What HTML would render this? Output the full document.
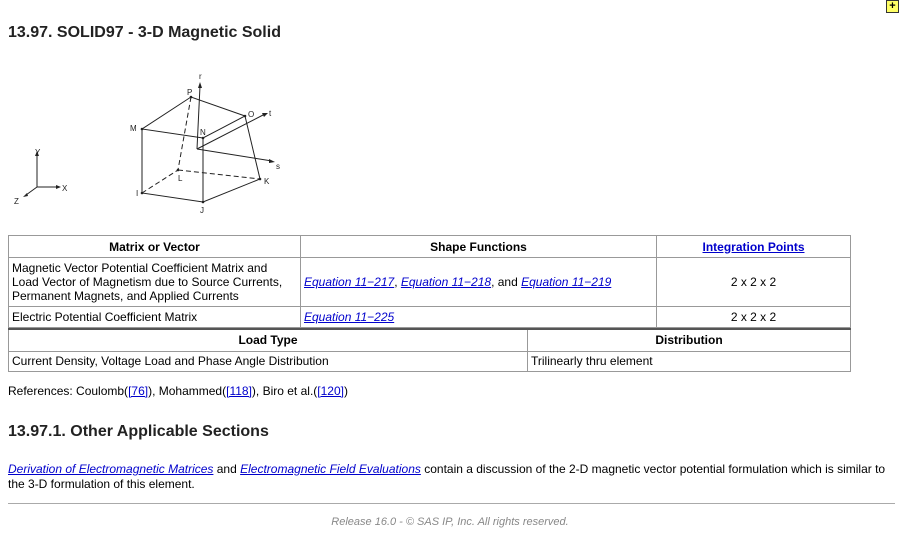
<!DOCTYPE html>
<html><head><meta charset="utf-8"><style>
body{margin:0;width:900px;height:540px;background:#fff;font-family:"Liberation Sans",sans-serif;color:#000;position:relative;overflow:hidden}
.a{position:absolute;white-space:nowrap}
a{color:#00c;text-decoration:underline}
table{position:absolute;border-collapse:collapse;font-size:12px;left:8px}
td,th{border:1px solid #999;padding:0 3px;vertical-align:middle}
th{font-weight:bold}
</style></head><body>
<div class="a" style="left:886px;top:0;width:11px;height:11px;background:#ff6;border:1px solid #333;font-size:11px;line-height:11px;text-align:center;font-weight:bold">+</div>
<div class="a" style="left:8px;top:24px;font-size:16px;font-weight:bold;color:#222">13.97. SOLID97 - 3-D Magnetic Solid</div>
<svg class="a" style="left:0;top:0" width="300" height="230" font-family="Liberation Sans,sans-serif" font-size="8" fill="#222">
<g stroke="#222" stroke-width="1" fill="none">
<path d="M142 129L191 97L245 116L203 138Z"/>
<path d="M142 129L142 193L203 202L260 179L245 116"/>
<path d="M203 138L203 202"/>
<path d="M191 97L178 170L142 193M178 170L260 179" stroke-dasharray="5,3"/>
<path d="M197 149L200 86M197 149L265 114M197 149L272 161"/>
<path d="M37 187L37 155M37 187L57 187M37 187L26 195"/>
</g>
<g fill="#222"><path d="M200 82l-2 6h4z"/><path d="M268 113l-6 0 2 4z"/><path d="M275 162l-6-3 0 4z"/><path d="M37 151l-2 5h4z"/><path d="M61 187l-5-2v4z"/><path d="M23 197l4-4 1 3z"/>
<circle cx="142" cy="129" r="1.3"/><circle cx="191" cy="97" r="1.3"/><circle cx="245" cy="116" r="1.3"/><circle cx="203" cy="138" r="1.3"/><circle cx="142" cy="193" r="1.3"/><circle cx="203" cy="202" r="1.3"/><circle cx="260" cy="179" r="1.3"/><circle cx="178" cy="170" r="1.3"/></g>
<text x="199" y="79">r</text><text x="187" y="95">P</text><text x="248" y="117">O</text><text x="269" y="116">t</text><text x="130" y="131">M</text><text x="200" y="135">N</text><text x="276" y="169">s</text><text x="178" y="181">L</text><text x="264" y="184">K</text><text x="136" y="196">I</text><text x="200" y="213">J</text>
<text x="35" y="155">Y</text><text x="62" y="191">X</text><text x="14" y="204">Z</text>
</svg>
<table style="top:235px;width:843px">
<tr style="height:22px"><th style="width:285px">Matrix or Vector</th><th style="width:349px">Shape Functions</th><th><a href="#">Integration Points</a></th></tr>
<tr style="height:49px"><td style="line-height:14px">Magnetic Vector Potential Coefficient Matrix and<br>Load Vector of Magnetism due to Source Currents,<br>Permanent Magnets, and Applied Currents</td><td><i><a href="#">Equation 11−217</a></i>, <i><a href="#">Equation 11−218</a></i>, and <i><a href="#">Equation 11−219</a></i></td><td style="text-align:center">2 x 2 x 2</td></tr>
<tr style="height:21px"><td>Electric Potential Coefficient Matrix</td><td><i><a href="#">Equation 11−225</a></i></td><td style="text-align:center">2 x 2 x 2</td></tr>
</table>
<table style="top:328px;width:843px;border-top:2px solid #555">
<tr style="height:22px"><th style="width:512px">Load Type</th><th>Distribution</th></tr>
<tr style="height:20px"><td>Current Density, Voltage Load and Phase Angle Distribution</td><td>Trilinearly thru element</td></tr>
</table>
<div class="a" style="left:8px;top:384px;font-size:12px">References: Coulomb(<a href="#">[76]</a>), Mohammed(<a href="#">[118]</a>), Biro et al.(<a href="#">[120]</a>)</div>
<div class="a" style="left:8px;top:423px;font-size:16px;font-weight:bold;color:#222">13.97.1. Other Applicable Sections</div>
<div class="a" style="left:8px;top:462px;font-size:12px;transform-origin:0 0;transform:scaleX(1.0)"><i><a href="#">Derivation of Electromagnetic Matrices</a></i> and <i><a href="#">Electromagnetic Field Evaluations</a></i> contain a discussion of the 2-D magnetic vector potential formulation which is similar to</div>
<div class="a" style="left:8px;top:477px;font-size:12px">the 3-D formulation of this element.</div>
<div class="a" style="left:8px;top:503px;width:887px;height:1px;background:#aaa"></div>
<div class="a" style="left:0;width:900px;top:516px;text-align:center;font-size:11px;font-style:italic;color:#888">Release 16.0 - © SAS IP, Inc. All rights reserved.</div>
</body></html>
